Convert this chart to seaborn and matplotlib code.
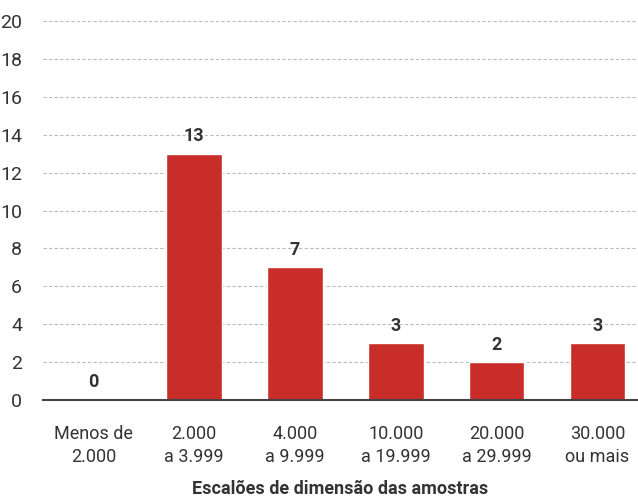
import matplotlib
matplotlib.use("Agg")
import matplotlib.pyplot as plt
import seaborn as sns
import pandas as pd

categories = ["Menos de\n2.000", "2.000\na 3.999", "4.000\na 9.999",
              "10.000\na 19.999", "20.000\na 29.999", "30.000\nou mais"]
values = [0, 13, 7, 3, 2, 3]
yticks = list(range(0, 21, 2))

df = pd.DataFrame({"cat": categories, "n": values})

sns.set_style("white")
plt.rcParams['font.family'] = ['Roboto', 'DejaVu Sans']
txt = '#333333'

fig = plt.figure(figsize=(6.38, 5.03), dpi=100)
ax = fig.add_axes([0.0674, 0.2048, 0.9306, 0.7532])

sns.barplot(data=df, x="cat", y="n", ax=ax, color='#c82d29', saturation=1, width=0.55, zorder=3)

for i, v in enumerate(values):
    ax.text(i, v + 0.45, str(v), ha='center', va='bottom', fontsize=13, fontweight='bold', color=txt)

ax.set_ylim(0, 20)
ax.set_xlim(-0.5, 5.39)
ax.set_yticks(yticks)
ax.yaxis.grid(True, linestyle=(0, (3, 2)), color='#bbbbbb', linewidth=0.8, zorder=0)
for s in ['left', 'right', 'top']:
    ax.spines[s].set_visible(False)
ax.spines['bottom'].set_color('#444444')
ax.spines['bottom'].set_linewidth(1.5)
ax.spines['bottom'].set_zorder(4)
ax.tick_params(axis='y', length=0, labelsize=14, labelcolor=txt, pad=15)
ax.tick_params(axis='x', length=9, width=1.5, color='#777777', direction='out', labelsize=13, labelcolor=txt, pad=9)
for lab in ax.get_xticklabels():
    lab.set_linespacing(1.35)
ax.set_ylabel('')
ax.set_xlabel('Escalões de dimensão das amostras', fontsize=13, fontweight='bold', color=txt, labelpad=10)

fig.savefig('out.png', dpi=100)
